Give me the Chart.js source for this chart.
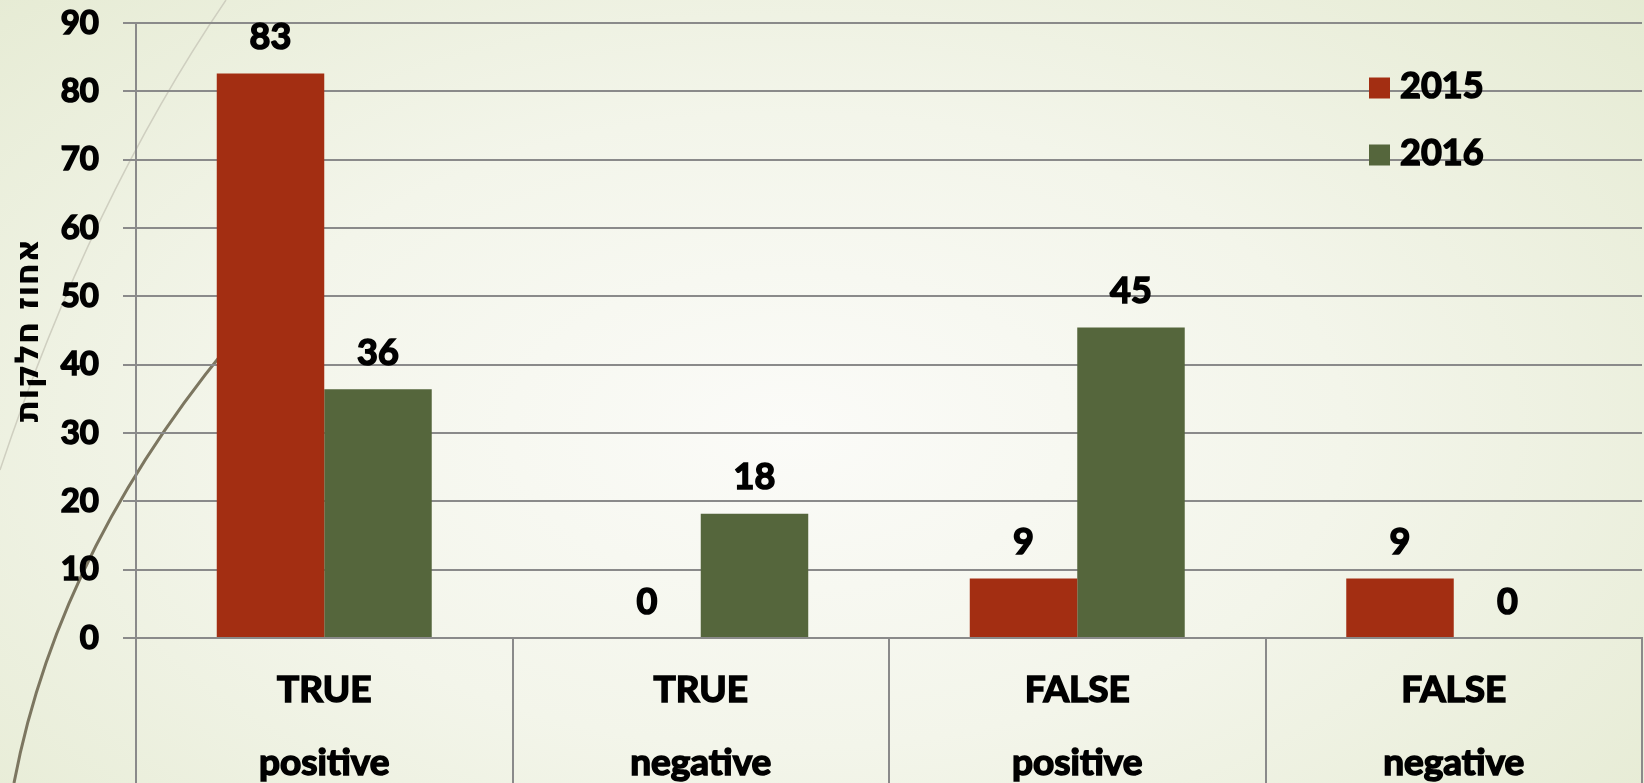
<!DOCTYPE html>
<html>
<head>
<meta charset="utf-8">
<script src="https://cdn.jsdelivr.net/npm/chart.js@4/dist/chart.umd.min.js"></script>
<style>
  html, body { margin: 0; padding: 0; }
  body {
    width: 1644px; height: 783px; overflow: hidden;
    background: radial-gradient(ellipse 75% 90% at 48% 55%, #fbfbf8 0%, #f3f5ea 45%, #e3e9cf 100%);
  }
  #grafica { display: block; }
</style>
</head>
<body>
<canvas id="grafica" width="1644" height="783"></canvas>
<script>
const categorias = [["TRUE", "positive"], ["TRUE", "negative"], ["FALSE", "positive"], ["FALSE", "negative"]];
const valores2015 = [82.6, 0, 8.7, 8.7];
const valores2016 = [36.4, 18.2, 45.45, 0];
const ticksY = [0, 10, 20, 30, 40, 50, 60, 70, 80, 90];
const tituloY = "אחוז חלקות";

const colorRojo = "#a32e12";
const colorVerde = "#55663c";
const colorGrilla = "#8a8a8a";
const fuente = "Lato, 'Liberation Sans', sans-serif";

// lineas decorativas del fondo de la diapositiva
const fondoPlugin = {
    id: "fondo",
    beforeDraw(chart) {
        const c = chart.ctx;
        c.save();
        c.strokeStyle = "#cfcfc0";
        c.lineWidth = 1.5;
        c.beginPath();
        c.moveTo(226, 0);
        c.quadraticCurveTo(90, 200, 0, 470);
        c.stroke();
        c.strokeStyle = "#7c7660";
        c.lineWidth = 3;
        c.beginPath();
        c.moveTo(250, 320);
        c.quadraticCurveTo(60, 540, 14, 783);
        c.stroke();
        c.restore();
    }
};

function textoGrueso(c, txt, x, y) {
    c.strokeText(txt, x, y);
    c.fillText(txt, x, y);
}

const etiquetasPlugin = {
    id: "etiquetas",
    afterDatasetsDraw(chart) {
        const c = chart.ctx;
        c.save();
        c.font = "bold 36px " + fuente;
        c.fillStyle = "#000";
        c.strokeStyle = "#000";
        c.lineWidth = 1.6;
        c.textAlign = "center";
        c.textBaseline = "middle";
        chart.data.datasets.forEach((ds, i) => {
            chart.getDatasetMeta(i).data.forEach((barra, j) => {
                textoGrueso(c, Math.round(ds.data[j]), barra.x, barra.y - 36);
            });
        });
        c.restore();
    }
};

const leyendaPlugin = {
    id: "leyenda",
    afterDraw(chart) {
        const c = chart.ctx;
        const area = chart.chartArea;
        c.save();
        c.font = "bold 36px " + fuente;
        c.textBaseline = "middle";
        c.strokeStyle = "#000";
        c.lineWidth = 1.6;
        chart.data.datasets.forEach((ds, i) => {
            const x = area.right - 273;
            const y = area.top + 65 + i * 67;
            c.fillStyle = ds.backgroundColor;
            c.fillRect(x, y - 10.5, 21, 21);
            c.fillStyle = "#000";
            textoGrueso(c, ds.label, x + 31, y - 2);
        });
        c.restore();
    }
};

const ctx = document.getElementById("grafica");
new Chart(ctx, {
    type: "bar",
    data: {
        labels: categorias,
        datasets: [
            { label: "2015", data: valores2015, backgroundColor: colorRojo, borderWidth: 0 },
            { label: "2016", data: valores2016, backgroundColor: colorVerde, borderWidth: 0 }
        ]
    },
    options: {
        responsive: false,
        animation: false,
        layout: { padding: { top: 23, right: 2, left: 0, bottom: 0 } },
        plugins: { legend: { display: false }, tooltip: { enabled: false } },
        datasets: { bar: { barPercentage: 1, categoryPercentage: 0.571 } },
        scales: {
            x: {
                afterFit(scale) { scale.height = 145; },
                grid: {
                    offset: true,
                    drawOnChartArea: false,
                    color: colorGrilla,
                    lineWidth: 2,
                    tickLength: 145
                },
                border: { color: colorGrilla, width: 2 },
                ticks: {
                    padding: -129.5,
                    color: "#000",
                    textStrokeColor: "#000",
                    textStrokeWidth: 1.6,
                    maxRotation: 0,
                    autoSkip: false,
                    font: { family: fuente, size: 37, weight: "bold", lineHeight: 1.97 }
                }
            },
            y: {
                min: 0,
                max: 90,
                afterFit(scale) {
                    scale.width = 136;
                    scale.paddingTop = 0;
                    scale.paddingBottom = 0;
                },
                afterBuildTicks(scale) { scale.ticks = ticksY.map((v) => ({ value: v })); },
                grid: { color: colorGrilla, lineWidth: 2, tickLength: 13 },
                border: { color: colorGrilla, width: 2 },
                ticks: {
                    padding: 24,
                    color: "#000",
                    textStrokeColor: "#000",
                    textStrokeWidth: 1.6,
                    font: { family: fuente, size: 33, weight: "bold" }
                },
                title: {
                    display: true,
                    text: tituloY,
                    color: "#000",
                    padding: { top: 10, bottom: 0 },
                    font: { family: "'DejaVu Sans', sans-serif", size: 33, weight: "bold" }
                }
            }
        }
    },
    plugins: [fondoPlugin, etiquetasPlugin, leyendaPlugin]
});
</script>
</body>
</html>
